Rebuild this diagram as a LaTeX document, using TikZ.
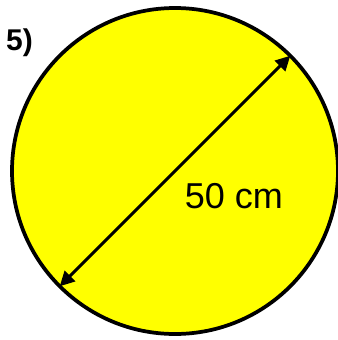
\documentclass[tikz,border=0pt]{standalone}
\usepackage{fontspec}
\setmainfont{Liberation Sans}
\usepackage{xcolor}
\usepackage{tikz}
\usetikzlibrary{arrows.meta,positioning}
\definecolor{Fill}{HTML}{FFFF00}

\begin{document}
\begin{tikzpicture}[x=0.75pt,y=-0.75pt,
    disc/.style={circle,draw=black,line width=2.8pt,fill=Fill,inner sep=0pt,outer sep=0pt,minimum size=244.5pt},
    dim/.style={line width=2.2pt,{Triangle[length=11pt,width=11pt]}-{Triangle[length=11pt,width=11pt]}},
]
\useasboundingbox (0,0) rectangle (338,340);
\node[disc] (disc) at (175,171) {};
\node[font=\bfseries\fontsize{22.5}{22.5}\selectfont,inner sep=0pt] (num) at (19.5,42.5) {5)};
\node[font=\fontsize{27}{27}\selectfont,inner sep=0pt] (len) at (234,196) {50 cm};
\draw[dim] (disc.225) -- (disc.45);
\end{tikzpicture}
\end{document}
